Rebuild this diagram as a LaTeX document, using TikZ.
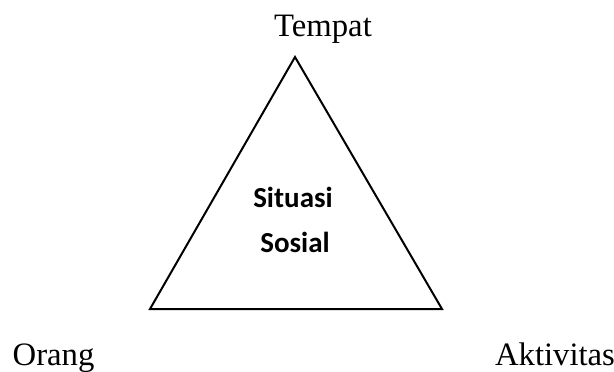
\documentclass[tikz,border=0pt]{standalone}
\usepackage{fontspec}
\setmainfont{Liberation Serif}
\newfontfamily\calibrifont{Carlito}
\tikzset{
  cornerlabel/.style={font=\fontsize{32.7}{39}\selectfont, anchor=base, inner sep=0pt},
  centrelabel/.style={font=\calibrifont\bfseries\fontsize{29}{35}\selectfont, anchor=base, inner sep=0pt},
  side/.style={line width=2pt, draw=black, line join=miter},
}
\begin{document}
\begin{tikzpicture}[x=1pt, y=-1pt]
\useasboundingbox (0,0) rectangle (614,372);
\coordinate (top) at (295,57);
\coordinate (left) at (150,309);
\coordinate (right) at (442,309);
\draw[side] (top) -- (left) -- (right) -- cycle;
\node[cornerlabel] (tempat) at (323,37) {Tempat};
\node[cornerlabel] (orang) at (53.5,365) {Orang};
\node[cornerlabel] (aktivitas) at (555,365) {Aktivitas};
\node[centrelabel] (situasi) at (293,207) {Situasi};
\node[centrelabel] (sosial) at (295,252) {Sosial};
\end{tikzpicture}
\end{document}
